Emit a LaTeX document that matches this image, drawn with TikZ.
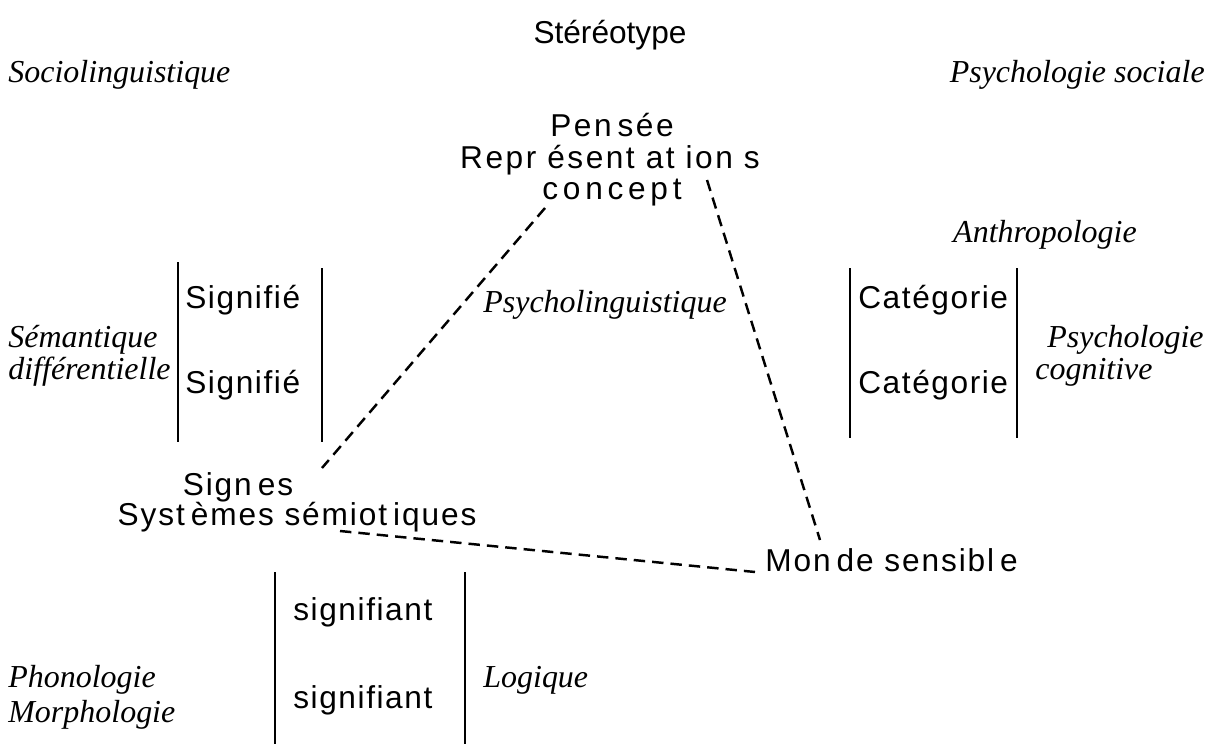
\documentclass[tikz,border=0pt]{standalone}
\usepackage{fontspec}
\setmainfont{Liberation Serif}
\newfontfamily\termfont[LetterSpace=5]{Liberation Sans}
\newfontfamily\signfont[LetterSpace=6]{Liberation Sans}
\newfontfamily\thinkfont[LetterSpace=8]{Liberation Sans}
\newfontfamily\conceptfont[LetterSpace=15]{Liberation Sans}
\newfontfamily\topfont{Liberation Sans}
\newcommand{\gap}{\hspace{0.22cm}}
\newcommand{\sgap}{\hspace{0.12cm}}
\usepackage{tikz}
\usetikzlibrary{positioning}
\tikzstyle{field} = [inner sep=0pt, font=\fontsize{18.2}{21}\selectfont\itshape]
\tikzstyle{term} = [inner sep=0pt, font={\termfont\fontsize{18}{21}\selectfont}]
\tikzstyle{sign} = [inner sep=0pt, font={\signfont\fontsize{18}{21}\selectfont}]
\tikzstyle{think} = [inner sep=0pt, font={\thinkfont\fontsize{18}{21}\selectfont}]
\tikzstyle{bar} = [line width=0.8pt]
\tikzstyle{link} = [line width=1.4pt, dash pattern=on 6.5pt off 4pt]

\begin{document}
\begin{tikzpicture}[x=0.02cm,y=-0.02cm]
    \useasboundingbox (0,0) rectangle (1214,744);
    % top
    \node[inner sep=0pt, font={\topfont\fontsize{18}{21}\selectfont}] (stereo) at (610,35) {Stéréotype};
    \node[field, anchor=west] (socio) at (8,75) {Sociolinguistique};
    \node[field, anchor=east] (psysoc) at (1205,75) {Psychologie sociale};
    \node[think] (pensee) at (612,125) {Pen\sgap sée};
    \node[think] (repr) at (610,160) {Repr\gap ésent\gap at\gap ion\gap s};
    \node[think, font={\conceptfont\fontsize{18}{21}\selectfont}] (concept) at (612,193) {concept};
    \node[field] (anthro) at (1045,235) {Anthropologie};
    % signifie
    \draw[bar] (178,262) -- (178,442);
    \draw[bar] (322,268) -- (322,442);
    \node[term, anchor=west] (sig1) at (185,300) {Signifié};
    \node[term, anchor=west] (sig2) at (185,385) {Signifié};
    \node[field, anchor=west] (sem) at (8,340) {Sémantique};
    \node[field, anchor=west] (diff) at (8,372) {différentielle};
    \node[field] (psyling) at (605,305) {Psycholinguistique};
    % categorie
    \draw[bar] (850,268) -- (850,438);
    \draw[bar] (1017,268) -- (1017,438);
    \node[term, anchor=west] (cat1) at (858,300) {Catégorie};
    \node[term, anchor=west] (cat2) at (858,385) {Catégorie};
    \node[field, anchor=west] (psycog) at (1047,340) {Psychologie};
    \node[field, anchor=west] (cog) at (1035,372) {cognitive};
    % signes
    \node[sign] (signes) at (238,487) {Sign\sgap es};
    \node[sign] (systemes) at (297,517) {Syst\sgap èmes sémiot\sgap iques};
    \node[sign, anchor=west] (monde) at (765,560) {Mon\sgap de sensibl\sgap e};
    % signifiant
    \draw[bar] (275,572) -- (275,744);
    \draw[bar] (465,572) -- (465,744);
    \node[term, anchor=west] (sgt1) at (293,612) {signifiant};
    \node[term, anchor=west] (sgt2) at (293,700) {signifiant};
    \node[field, anchor=west] (phono) at (8,680) {Phonologie};
    \node[field, anchor=west] (morpho) at (8,715) {Morphologie};
    \node[field, anchor=west] (logique) at (483,680) {Logique};
    % triangle
    \coordinate (cpt-l) at (545,208);
    \coordinate (cpt-r) at (707,180);
    \coordinate (sgn-t) at (322,468);
    \coordinate (sgn-r) at (340,531);
    \coordinate (mnd-t) at (820,540);
    \coordinate (mnd-l) at (755,572);
    \draw[link] (cpt-l) -- (sgn-t);
    \draw[link] (cpt-r) -- (mnd-t);
    \draw[link] (sgn-r) -- (mnd-l);
\end{tikzpicture}
\end{document}
